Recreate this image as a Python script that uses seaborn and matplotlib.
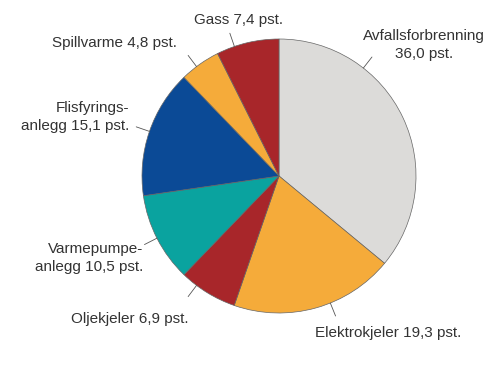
import numpy as np
import seaborn as sns
import matplotlib.pyplot as plt

# andeler (pst.), med klokka fra toppen
kilder = ['Avfallsforbrenning', 'Elektrokjeler', 'Oljekjeler', 'Varmepumpeanlegg',
          'Flisfyringsanlegg', 'Spillvarme', 'Gass']
andel = [36.0, 19.3, 6.9, 10.5, 15.1, 4.8, 7.4]
etiketter = ['Avfallsforbrenning\n36,0 pst.', 'Elektrokjeler 19,3 pst.', 'Oljekjeler 6,9 pst.',
             'Varmepumpe-\nanlegg 10,5 pst.', 'Flisfyrings-\nanlegg 15,1 pst.',
             'Spillvarme 4,8 pst.', 'Gass 7,4 pst.']
farger = ['#dcdbd9', '#f5ab3a', '#a8262a', '#0aa39f', '#0b4a96', '#f5ab3a', '#a8262a']

sns.set_theme(style='white')
plt.rcParams['font.family'] = ['Liberation Sans', 'DejaVu Sans']

fig = plt.figure(figsize=(4.87, 3.79), dpi=100)
ax = fig.add_axes([0, 0, 1, 1])

cx, cy, r = 279, 203, 137
ax.pie(andel, colors=farger, startangle=90, counterclock=False,
       center=(cx, cy), radius=r, frame=True,
       wedgeprops=dict(edgecolor='#666666', linewidth=0.5))
ax.set_xlim(0, 487)
ax.set_ylim(0, 379)
ax.set_aspect('equal')
ax.axis('off')

# ankervinkel for strek, tekstposisjon, justering
plassering = [
    (52, (424, 334), 'center'),
    (-68, (315, 46), 'left'),
    (233, (130, 60), 'center'),
    (207, (143, 121), 'right'),
    (161, (129, 262), 'right'),
    (127, (177, 336), 'right'),
    (109, (238, 359), 'center'),
]
for lab, (vinkel, (tx, ty), ha) in zip(etiketter, plassering):
    a = np.deg2rad(vinkel)
    x0, y0 = cx + r * np.cos(a), cy + r * np.sin(a)
    x1, y1 = cx + (r + 14) * np.cos(a), cy + (r + 14) * np.sin(a)
    ax.plot([x0, x1], [y0, y1], color='#555555', lw=0.6)
    ax.text(tx, ty, lab, ha=ha, va='center', fontsize=11, color='#333333',
            linespacing=1.4, multialignment=ha)

fig.savefig('out.png', dpi=100)
